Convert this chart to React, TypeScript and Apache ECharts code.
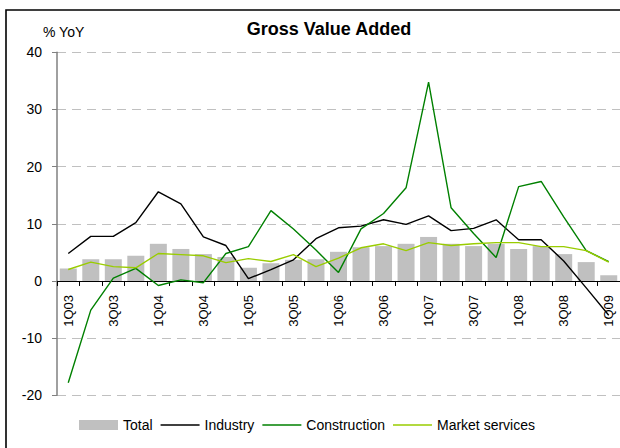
import React, { useEffect, useRef } from "react";
import * as echarts from "echarts";

const categories = [
  "1Q03", "2Q03", "3Q03", "4Q03",
  "1Q04", "2Q04", "3Q04", "4Q04",
  "1Q05", "2Q05", "3Q05", "4Q05",
  "1Q06", "2Q06", "3Q06", "4Q06",
  "1Q07", "2Q07", "3Q07", "4Q07",
  "1Q08", "2Q08", "3Q08", "4Q08",
  "1Q09",
];

const total = [2.2, 3.8, 3.8, 4.4, 6.5, 5.6, 4.7, 4.2, 2.3, 3.1, 3.7, 3.8, 5.1, 5.9, 6.1, 6.5, 7.7, 6.5, 6.1, 6.5, 5.6, 6.1, 4.7, 3.3, 1.0];
const industry = [4.8, 7.8, 7.8, 10.2, 15.6, 13.5, 7.7, 6.2, 0.4, 2.0, 3.7, 7.4, 9.3, 9.6, 10.7, 9.9, 11.4, 8.8, 9.2, 10.7, 7.2, 7.2, 3.5, -1.2, -6.0];
const construction = [-17.8, -5.1, 0.5, 2.2, -0.8, 0.2, -0.3, 4.8, 6.0, 12.3, 9.1, 5.4, 1.5, 9.1, 11.8, 16.3, 34.8, 12.8, 8.3, 4.1, 16.5, 17.4, 11.2, 5.3, 3.4];
const marketServices = [2.0, 3.3, 2.5, 2.3, 4.8, 4.6, 4.4, 3.2, 3.9, 3.4, 4.6, 2.5, 4.0, 5.8, 6.5, 5.3, 6.7, 6.2, 6.5, 6.7, 6.7, 6.0, 6.0, 5.3, 3.3];

const FONT = "'Liberation Sans', Arial, sans-serif";
const Y_MIN = -20;
const Y_MAX = 40;
const GRID_TOP = 52.3;
const GRID_HEIGHT = 343;
const LINE_ICON = "path://M0,0 L39,0 L39,1.6 L0,1.6 Z";

export default function App() {
  const ref = useRef<HTMLDivElement>(null);

  useEffect(() => {
    document.body.style.margin = "0";
    if (!ref.current) return;
    const chart = echarts.init(ref.current, null, { renderer: "svg" });
    // distance from the bottom of the grid up to the zero line
    const zeroOffset = (GRID_HEIGHT * (0 - Y_MIN)) / (Y_MAX - Y_MIN);
    chart.setOption({
      animation: false,
      backgroundColor: "#ffffff",
      textStyle: { fontFamily: FONT },
      graphic: [
        {
          type: "rect",
          shape: { x: 6, y: 10, width: 700, height: 600 },
          style: { fill: "none", stroke: "#000000", lineWidth: 1.6 },
          silent: true,
        },
        {
          type: "text",
          x: 43,
          y: 25,
          style: { text: "% YoY", font: `14px ${FONT}`, fill: "#000000" },
        },
        {
          type: "text",
          x: 329,
          y: 20,
          style: {
            text: "Gross Value Added",
            font: `bold 18px ${FONT}`,
            fill: "#000000",
            textAlign: "center",
          },
        },
      ],
      legend: {
        left: 74,
        top: 413,
        itemWidth: 39,
        itemHeight: 10,
        itemGap: 8,
        symbolKeepAspect: true,
        textStyle: { fontSize: 14, color: "#000000", fontFamily: FONT },
        data: [
          { name: "Total", icon: "rect" },
          { name: "Industry", icon: LINE_ICON },
          { name: "Construction", icon: LINE_ICON },
          { name: "Market services", icon: LINE_ICON },
        ],
      },
      grid: { left: 57, top: GRID_TOP, width: 564.5, height: GRID_HEIGHT },
      xAxis: {
        type: "category",
        data: categories,
        boundaryGap: true,
        offset: -zeroOffset,
        axisLine: { onZero: false, lineStyle: { color: "#000000", width: 1.2 } },
        axisTick: { show: true, interval: 0, length: 5, lineStyle: { color: "#000000" } },
        axisLabel: {
          interval: 1,
          rotate: 90,
          fontSize: 13,
          color: "#000000",
          margin: 14,
          fontFamily: FONT,
        },
        splitLine: { show: false },
      },
      yAxis: {
        type: "value",
        min: Y_MIN,
        max: Y_MAX,
        interval: 10,
        axisLine: { show: true, lineStyle: { color: "#808080", width: 1.5 } },
        axisTick: { show: true, length: 5, lineStyle: { color: "#808080" } },
        axisLabel: { fontSize: 14, color: "#000000", margin: 15, fontFamily: FONT },
        splitLine: {
          show: true,
          lineStyle: { color: "#c0c0c0", type: [9, 6], width: 1 },
        },
      },
      series: [
        {
          name: "Total",
          type: "bar",
          data: total,
          barWidth: 17,
          itemStyle: { color: "#c0c0c0" },
        },
        {
          name: "Industry",
          type: "line",
          data: industry,
          symbol: "none",
          lineStyle: { color: "#000000", width: 1.4 },
          itemStyle: { color: "#000000" },
        },
        {
          name: "Construction",
          type: "line",
          data: construction,
          symbol: "none",
          lineStyle: { color: "#008000", width: 1.4 },
          itemStyle: { color: "#008000" },
        },
        {
          name: "Market services",
          type: "line",
          data: marketServices,
          symbol: "none",
          lineStyle: { color: "#99cc00", width: 1.4 },
          itemStyle: { color: "#99cc00" },
        },
      ],
    });
    return () => chart.dispose();
  }, []);

  return <div ref={ref} style={{ width: 620, height: 448 }} />;
}
